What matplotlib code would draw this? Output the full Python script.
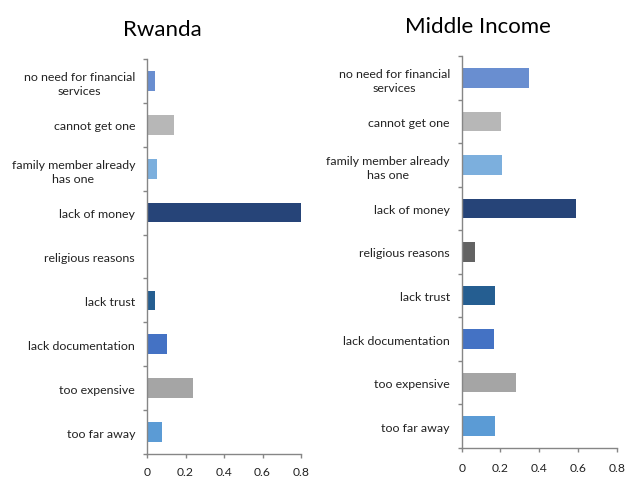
import matplotlib
matplotlib.use("Agg")
import matplotlib.pyplot as plt
import numpy as np

categories = ["no need for financial\nservices", "cannot get one",
              "family member already\nhas one", "lack of money",
              "religious reasons", "lack trust", "lack documentation",
              "too expensive", "too far away"]
rwanda = [0.035, 0.135, 0.05, 0.795, 0.0, 0.035, 0.10, 0.235, 0.075]
middle_income = [0.345, 0.198, 0.206, 0.588, 0.064, 0.168, 0.165, 0.274, 0.168]
colors = ["#698ED0", "#B7B7B7", "#7CAFDD", "#264478", "#636363",
          "#255E91", "#4472C4", "#A5A5A5", "#5B9BD5"]
xticks = [0, 0.2, 0.4, 0.6, 0.8]
xticklabels = ["0", "0.2", "0.4", "0.6", "0.8"]
titles = ["Rwanda", "Middle Income"]

plt.rcParams['font.family'] = ['Lato', 'DejaVu Sans']
W, H = 639, 481
fig = plt.figure(figsize=(W / 100, H / 100), dpi=100)
fig.patch.set_facecolor("white")

def px_axes(x0, x1, y0, y1):
    return fig.add_axes([x0 / W, 1 - y1 / H, (x1 - x0) / W, (y1 - y0) / H])

panels = [
    (px_axes(147, 301, 60, 455), rwanda, titles[0], 162, 30, 5.5),
    (px_axes(461.7, 616.7, 57, 449), middle_income, titles[1], 478, 27, 7),
]
gray = "#868686"
for ax, vals, title, tx, ty, xpad in panels:
    y = np.arange(len(categories))
    ax.barh(y, vals, height=0.45, color=colors, left=0.004)
    ax.set_xlim(0, 0.8)
    ax.set_ylim(len(categories) - 0.5, -0.5)
    ax.set_yticks(y)
    ax.set_yticklabels(categories, ha="right", multialignment="center",
                       fontsize=8.9, color="#222222", linespacing=1.35)
    ax.set_yticks(np.arange(-0.5, len(categories), 1.0), minor=True)
    ax.tick_params(axis="y", which="major", length=0, pad=8.6)
    ax.tick_params(axis="y", which="minor", length=3, color=gray, width=1)
    ax.set_xticks(xticks)
    ax.set_xticklabels(xticklabels, fontsize=8.7, color="#222222")
    ax.tick_params(axis="x", length=3, color=gray, width=1, pad=xpad)
    for s in ["top", "right"]:
        ax.spines[s].set_visible(False)
    for s in ["left", "bottom"]:
        ax.spines[s].set_color(gray)
        ax.spines[s].set_linewidth(1)
    fig.text(tx / W, 1 - ty / H, title, ha="center", va="center",
             fontsize=16, color="#000000")

fig.savefig("out.png", dpi=100, facecolor="white")
